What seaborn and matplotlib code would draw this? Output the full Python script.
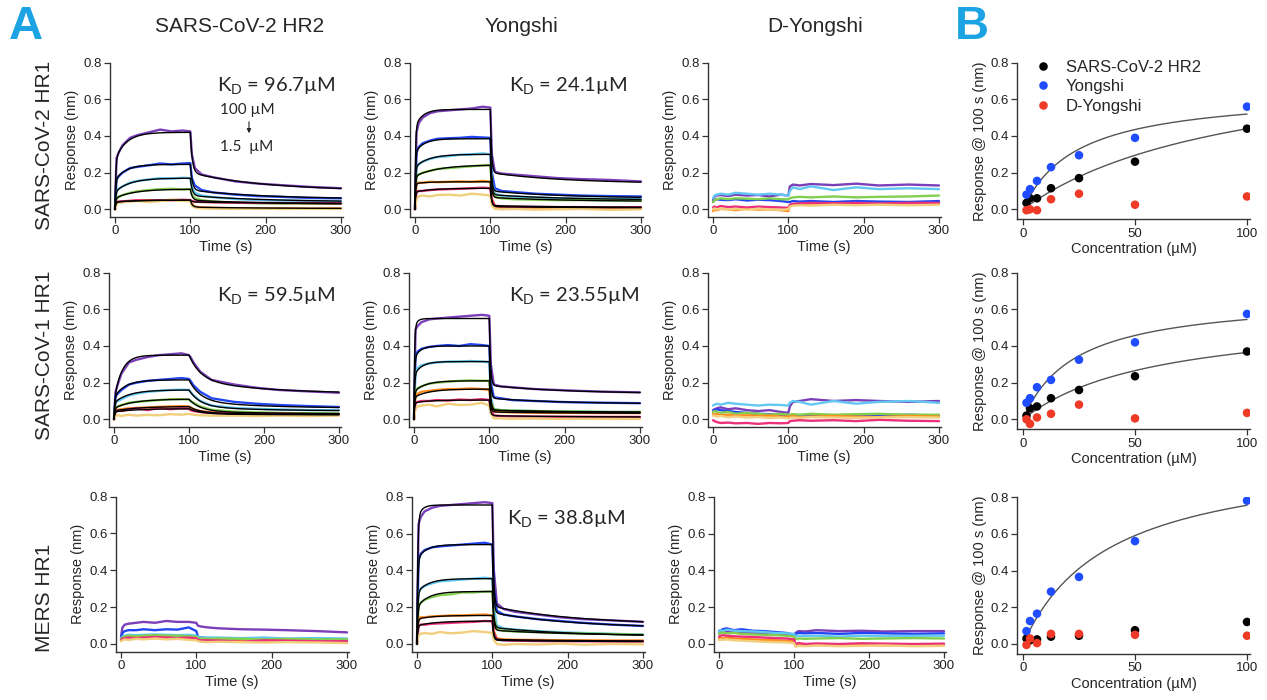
import numpy as np
import pandas as pd
import matplotlib
matplotlib.use("Agg")
import matplotlib.pyplot as plt
import seaborn as sns

W, H = 1267, 700

# ---------------- data ----------------
time_s = [0, 2, 5, 10, 20, 30, 45, 60, 75, 90, 100, 102, 106, 115, 130, 160, 190, 220, 260, 300]
conc_uM = [100, 50, 25, 12.5, 6.25, 3.125, 1.5625]
trace_colors = ['#7b3fb9', '#2446f2', '#62c8f3', '#82cf4e', '#ff8c1f', '#ea3179', '#f2cf7d']
analytes = ["SARS-CoV-2 HR2", "Yongshi", "D-Yongshi"]
ligands = ["SARS-CoV-2 HR1", "SARS-CoV-1 HR1", "MERS HR1"]

# measured sensorgrams (nm), one list per concentration (100 -> 1.56 uM)
s2hr1_hr2 = [
    [0.00, 0.28, 0.31, 0.35, 0.39, 0.405, 0.42, 0.435, 0.425, 0.43, 0.425, 0.30, 0.225, 0.19, 0.175, 0.152, 0.14, 0.132, 0.122, 0.115],
    [0.00, 0.165, 0.18, 0.20, 0.225, 0.232, 0.24, 0.25, 0.245, 0.25, 0.252, 0.17, 0.13, 0.105, 0.092, 0.08, 0.072, 0.068, 0.062, 0.06],
    [0.00, 0.10, 0.112, 0.125, 0.145, 0.155, 0.163, 0.17, 0.168, 0.172, 0.17, 0.12, 0.09, 0.075, 0.066, 0.056, 0.05, 0.048, 0.046, 0.045],
    [0.00, 0.06, 0.068, 0.078, 0.09, 0.098, 0.105, 0.11, 0.112, 0.108, 0.11, 0.08, 0.06, 0.05, 0.042, 0.036, 0.033, 0.031, 0.03, 0.03],
    [0.00, 0.035, 0.04, 0.042, 0.045, 0.048, 0.05, 0.048, 0.052, 0.05, 0.05, 0.03, 0.015, 0.01, 0.008, 0.006, 0.005, 0.006, 0.004, 0.005],
    [0.00, 0.04, 0.042, 0.044, 0.046, 0.05, 0.047, 0.05, 0.049, 0.052, 0.05, 0.045, 0.042, 0.04, 0.038, 0.036, 0.035, 0.034, 0.034, 0.033],
    [0.00, 0.03, 0.035, 0.038, 0.042, 0.045, 0.04, 0.045, 0.05, 0.046, 0.045, 0.02, 0.01, 0.005, 0.003, 0.002, 0.004, 0.002, 0.003, 0.002],
]
s2hr1_yongshi = [
    [0.00, 0.42, 0.47, 0.50, 0.525, 0.535, 0.54, 0.545, 0.55, 0.56, 0.555, 0.30, 0.205, 0.195, 0.19, 0.18, 0.17, 0.165, 0.16, 0.152],
    [0.00, 0.31, 0.34, 0.36, 0.375, 0.385, 0.388, 0.39, 0.395, 0.392, 0.39, 0.20, 0.115, 0.10, 0.095, 0.085, 0.08, 0.075, 0.072, 0.07],
    [0.00, 0.23, 0.245, 0.26, 0.275, 0.285, 0.29, 0.298, 0.30, 0.305, 0.30, 0.15, 0.085, 0.075, 0.07, 0.065, 0.06, 0.058, 0.057, 0.055],
    [0.00, 0.18, 0.19, 0.20, 0.21, 0.22, 0.225, 0.23, 0.235, 0.24, 0.242, 0.12, 0.068, 0.06, 0.055, 0.052, 0.05, 0.05, 0.048, 0.048],
    [0.00, 0.14, 0.145, 0.145, 0.15, 0.148, 0.15, 0.152, 0.15, 0.155, 0.15, 0.06, 0.015, 0.01, 0.008, 0.008, 0.006, 0.007, 0.005, 0.006],
    [0.00, 0.095, 0.10, 0.10, 0.105, 0.108, 0.11, 0.112, 0.115, 0.118, 0.115, 0.05, 0.02, 0.016, 0.014, 0.013, 0.012, 0.012, 0.011, 0.012],
    [0.00, 0.06, 0.07, 0.075, 0.07, 0.078, 0.08, 0.075, 0.085, 0.08, 0.075, 0.02, 0.003, 0.0, 0.002, -0.002, 0.0, 0.002, -0.003, 0.0],
]
s2hr1_dyongshi = [
    [0.05, 0.07, 0.075, 0.078, 0.072, 0.08, 0.075, 0.078, 0.07, 0.08, 0.075, 0.125, 0.135, 0.13, 0.138, 0.132, 0.14, 0.13, 0.135, 0.13],
    [0.04, 0.05, 0.055, 0.052, 0.05, 0.055, 0.048, 0.052, 0.05, 0.045, 0.04, 0.04, 0.045, 0.042, 0.045, 0.04, 0.045, 0.042, 0.04, 0.045],
    [0.06, 0.075, 0.08, 0.085, 0.08, 0.09, 0.085, 0.08, 0.085, 0.08, 0.075, 0.10, 0.12, 0.11, 0.125, 0.105, 0.12, 0.11, 0.115, 0.11],
    [0.04, 0.05, 0.055, 0.06, 0.055, 0.06, 0.058, 0.055, 0.06, 0.055, 0.055, 0.06, 0.065, 0.068, 0.065, 0.07, 0.065, 0.068, 0.07, 0.075],
    [-0.01, 0.0, -0.005, 0.002, 0.0, -0.005, 0.003, -0.002, 0.0, -0.005, -0.01, 0.02, 0.025, 0.03, 0.028, 0.032, 0.03, 0.028, 0.032, 0.03],
    [0.01, 0.015, 0.01, 0.018, 0.012, 0.015, 0.01, 0.015, 0.012, 0.01, 0.008, 0.025, 0.03, 0.032, 0.035, 0.033, 0.035, 0.032, 0.035, 0.035],
    [0.0, 0.005, 0.0, 0.004, 0.0, 0.002, -0.002, 0.003, 0.0, -0.003, 0.0, 0.015, 0.02, 0.022, 0.02, 0.025, 0.022, 0.025, 0.022, 0.025],
]
s1hr1_hr2 = [
    [0.00, 0.15, 0.19, 0.25, 0.31, 0.325, 0.34, 0.35, 0.355, 0.36, 0.35, 0.34, 0.31, 0.26, 0.215, 0.19, 0.172, 0.16, 0.152, 0.145],
    [0.00, 0.125, 0.14, 0.16, 0.19, 0.20, 0.21, 0.215, 0.22, 0.225, 0.22, 0.21, 0.185, 0.15, 0.115, 0.095, 0.085, 0.078, 0.072, 0.067],
    [0.00, 0.095, 0.10, 0.11, 0.13, 0.14, 0.15, 0.155, 0.16, 0.162, 0.16, 0.15, 0.13, 0.10, 0.075, 0.062, 0.057, 0.054, 0.05, 0.05],
    [0.00, 0.065, 0.07, 0.078, 0.09, 0.095, 0.10, 0.105, 0.11, 0.11, 0.108, 0.10, 0.09, 0.07, 0.052, 0.042, 0.038, 0.035, 0.033, 0.032],
    [0.00, 0.05, 0.052, 0.055, 0.06, 0.062, 0.065, 0.068, 0.07, 0.072, 0.07, 0.065, 0.055, 0.045, 0.038, 0.033, 0.03, 0.03, 0.028, 0.028],
    [0.00, 0.045, 0.05, 0.045, 0.055, 0.06, 0.05, 0.062, 0.055, 0.06, 0.058, 0.05, 0.045, 0.04, 0.035, 0.032, 0.03, 0.03, 0.028, 0.027],
    [0.00, 0.02, 0.022, 0.018, 0.025, 0.02, 0.024, 0.022, 0.028, 0.025, 0.03, 0.028, 0.025, 0.022, 0.02, 0.02, 0.018, 0.02, 0.018, 0.02],
]
s1hr1_yongshi = [
    [0.00, 0.49, 0.51, 0.53, 0.545, 0.55, 0.555, 0.56, 0.565, 0.57, 0.565, 0.30, 0.19, 0.18, 0.175, 0.165, 0.16, 0.155, 0.15, 0.147],
    [0.00, 0.35, 0.37, 0.385, 0.395, 0.40, 0.405, 0.40, 0.41, 0.405, 0.40, 0.20, 0.12, 0.115, 0.105, 0.10, 0.095, 0.092, 0.09, 0.088],
    [0.00, 0.26, 0.28, 0.295, 0.305, 0.31, 0.315, 0.315, 0.318, 0.315, 0.31, 0.12, 0.055, 0.05, 0.048, 0.045, 0.042, 0.042, 0.04, 0.04],
    [0.00, 0.16, 0.17, 0.18, 0.195, 0.20, 0.205, 0.21, 0.212, 0.21, 0.21, 0.10, 0.055, 0.05, 0.048, 0.045, 0.043, 0.042, 0.04, 0.04],
    [0.00, 0.13, 0.14, 0.15, 0.155, 0.16, 0.165, 0.165, 0.168, 0.165, 0.16, 0.08, 0.042, 0.04, 0.038, 0.036, 0.035, 0.035, 0.034, 0.034],
    [0.00, 0.09, 0.095, 0.10, 0.10, 0.105, 0.102, 0.108, 0.105, 0.11, 0.105, 0.05, 0.022, 0.018, 0.016, 0.015, 0.014, 0.014, 0.013, 0.013],
    [0.00, 0.06, 0.07, 0.075, 0.08, 0.07, 0.085, 0.078, 0.08, 0.09, 0.075, 0.03, 0.005, 0.005, 0.003, 0.004, 0.002, 0.003, 0.002, 0.002],
]
s1hr1_dyongshi = [
    [0.05, 0.055, 0.06, 0.065, 0.055, 0.06, 0.05, 0.045, 0.05, 0.04, 0.035, 0.07, 0.095, 0.10, 0.11, 0.10, 0.105, 0.10, 0.095, 0.10],
    [0.045, 0.05, 0.055, 0.05, 0.045, 0.04, 0.035, 0.03, 0.028, 0.025, 0.02, 0.02, 0.022, 0.018, 0.02, 0.022, 0.018, 0.02, 0.025, 0.02],
    [0.075, 0.08, 0.085, 0.08, 0.09, 0.085, 0.08, 0.075, 0.08, 0.078, 0.075, 0.09, 0.10, 0.095, 0.08, 0.10, 0.085, 0.095, 0.10, 0.09],
    [0.04, 0.045, 0.04, 0.035, 0.04, 0.03, 0.035, 0.03, 0.025, 0.03, 0.025, 0.025, 0.028, 0.025, 0.03, 0.025, 0.028, 0.03, 0.025, 0.025],
    [0.03, 0.025, 0.03, 0.022, 0.025, 0.02, 0.022, 0.018, 0.02, 0.015, 0.015, 0.015, 0.018, 0.012, 0.015, 0.018, 0.015, 0.012, 0.018, 0.015],
    [-0.005, -0.01, -0.015, -0.02, -0.018, -0.022, -0.02, -0.025, -0.02, -0.022, -0.02, -0.01, -0.008, -0.005, -0.008, -0.005, -0.01, -0.003, -0.008, -0.01],
    [0.02, 0.02, 0.015, 0.018, 0.012, 0.015, 0.01, 0.012, 0.008, 0.01, 0.005, 0.008, 0.01, 0.008, 0.012, 0.01, 0.008, 0.01, 0.012, 0.01],
]
mers_hr2 = [
    [0.04, 0.09, 0.105, 0.11, 0.115, 0.12, 0.115, 0.125, 0.12, 0.12, 0.115, 0.10, 0.095, 0.09, 0.085, 0.08, 0.078, 0.075, 0.07, 0.063],
    [0.03, 0.06, 0.07, 0.075, 0.075, 0.08, 0.075, 0.08, 0.078, 0.09, 0.07, 0.04, 0.035, 0.032, 0.03, 0.03, 0.032, 0.025, 0.03, 0.022],
    [0.03, 0.04, 0.045, 0.05, 0.048, 0.05, 0.052, 0.05, 0.048, 0.05, 0.045, 0.038, 0.035, 0.035, 0.035, 0.032, 0.035, 0.03, 0.032, 0.03],
    [0.025, 0.035, 0.04, 0.045, 0.042, 0.045, 0.048, 0.045, 0.045, 0.042, 0.04, 0.03, 0.03, 0.028, 0.03, 0.028, 0.025, 0.028, 0.025, 0.025],
    [0.02, 0.025, 0.03, 0.028, 0.035, 0.03, 0.032, 0.035, 0.03, 0.032, 0.03, 0.02, 0.018, 0.015, 0.018, 0.015, 0.012, 0.015, 0.012, 0.01],
    [0.02, 0.03, 0.032, 0.035, 0.03, 0.035, 0.038, 0.035, 0.032, 0.035, 0.03, 0.022, 0.02, 0.02, 0.018, 0.012, 0.02, 0.018, 0.015, 0.015],
    [0.015, 0.02, 0.025, 0.022, 0.028, 0.025, 0.03, 0.025, 0.028, 0.022, 0.02, 0.015, 0.012, 0.01, 0.012, 0.01, 0.008, 0.01, 0.008, 0.005],
]
mers_yongshi = [
    [0.00, 0.65, 0.69, 0.72, 0.74, 0.75, 0.755, 0.76, 0.765, 0.77, 0.765, 0.40, 0.22, 0.19, 0.175, 0.16, 0.145, 0.135, 0.128, 0.12],
    [0.00, 0.46, 0.49, 0.51, 0.525, 0.53, 0.535, 0.54, 0.545, 0.55, 0.54, 0.30, 0.18, 0.16, 0.15, 0.135, 0.125, 0.115, 0.105, 0.098],
    [0.00, 0.28, 0.30, 0.315, 0.33, 0.34, 0.345, 0.35, 0.355, 0.36, 0.355, 0.20, 0.10, 0.085, 0.078, 0.07, 0.064, 0.06, 0.055, 0.052],
    [0.00, 0.21, 0.225, 0.24, 0.255, 0.265, 0.27, 0.28, 0.28, 0.285, 0.285, 0.15, 0.08, 0.072, 0.068, 0.064, 0.06, 0.057, 0.054, 0.05],
    [0.00, 0.14, 0.145, 0.145, 0.15, 0.152, 0.155, 0.155, 0.158, 0.16, 0.155, 0.07, 0.03, 0.025, 0.023, 0.022, 0.02, 0.02, 0.019, 0.019],
    [0.00, 0.10, 0.105, 0.105, 0.11, 0.112, 0.115, 0.118, 0.12, 0.125, 0.123, 0.06, 0.025, 0.02, 0.018, 0.016, 0.015, 0.015, 0.014, 0.014],
    [0.00, 0.05, 0.055, 0.06, 0.055, 0.065, 0.058, 0.062, 0.07, 0.065, 0.06, 0.02, 0.0, -0.005, 0.0, -0.003, 0.002, -0.004, 0.0, -0.002],
]
mers_dyongshi = [
    [0.06, 0.065, 0.07, 0.068, 0.065, 0.06, 0.062, 0.058, 0.055, 0.05, 0.045, 0.06, 0.07, 0.068, 0.075, 0.07, 0.072, 0.068, 0.07, 0.07],
    [0.07, 0.075, 0.08, 0.085, 0.075, 0.08, 0.072, 0.07, 0.065, 0.06, 0.05, 0.055, 0.06, 0.058, 0.06, 0.055, 0.06, 0.058, 0.055, 0.058],
    [0.065, 0.075, 0.07, 0.078, 0.072, 0.07, 0.068, 0.065, 0.06, 0.058, 0.055, 0.04, 0.045, 0.042, 0.045, 0.04, 0.045, 0.042, 0.045, 0.045],
    [0.055, 0.06, 0.062, 0.058, 0.06, 0.055, 0.052, 0.05, 0.048, 0.045, 0.04, 0.025, 0.03, 0.028, 0.03, 0.032, 0.028, 0.03, 0.032, 0.03],
    [0.03, 0.035, 0.03, 0.035, 0.03, 0.028, 0.025, 0.022, 0.02, 0.018, 0.015, -0.01, -0.005, -0.008, -0.005, -0.01, -0.005, -0.008, -0.005, -0.005],
    [0.04, 0.045, 0.048, 0.045, 0.042, 0.04, 0.038, 0.035, 0.032, 0.03, 0.025, 0.0, 0.005, 0.0, 0.003, 0.0, 0.004, 0.002, 0.0, 0.002],
    [0.02, 0.025, 0.022, 0.025, 0.02, 0.018, 0.015, 0.012, 0.01, 0.008, 0.005, -0.015, -0.01, -0.012, -0.008, -0.012, -0.01, -0.008, -0.012, -0.01],
]

# kinetic fit parameters per trace: (fast amplitude, slow amplitude, slow tau, level after fast drop, plateau)
fit_s2hr1_hr2 = [(0.27, 0.15, 15, 0.20, 0.10), (0.16, 0.085, 15, 0.105, 0.055), (0.095, 0.075, 20, 0.075, 0.04),
                 (0.06, 0.05, 25, 0.05, 0.027), (0.038, 0.012, 25, 0.012, 0.004), (0.04, 0.01, 25, 0.04, 0.032)]
fit_s2hr1_yongshi = [(0.45, 0.095, 10, 0.20, 0.14), (0.31, 0.075, 12, 0.10, 0.06), (0.23, 0.07, 18, 0.08, 0.05),
                     (0.18, 0.062, 30, 0.065, 0.042), (0.14, 0.01, 15, 0.015, 0.008), (0.095, 0.02, 25, 0.02, 0.01)]
fit_s1hr1_hr2 = [(0.10, 0.25, 10, 0.22, 0.14), (0.12, 0.095, 15, 0.10, 0.06), (0.09, 0.07, 20, 0.07, 0.045),
                 (0.06, 0.05, 25, 0.045, 0.03), (0.045, 0.025, 30, 0.035, 0.025), (0.04, 0.018, 30, 0.03, 0.024)]
fit_s1hr1_yongshi = [(0.50, 0.05, 4, 0.185, 0.14), (0.33, 0.07, 8, 0.115, 0.083), (0.24, 0.075, 10, 0.05, 0.038),
                     (0.15, 0.06, 15, 0.05, 0.036), (0.12, 0.045, 20, 0.04, 0.032), (0.09, 0.015, 20, 0.02, 0.012)]
fit_mers_yongshi = [(0.68, 0.075, 6, 0.205, 0.105), (0.46, 0.08, 12, 0.17, 0.085), (0.28, 0.075, 15, 0.09, 0.04),
                    (0.20, 0.085, 15, 0.075, 0.045), (0.135, 0.02, 20, 0.025, 0.015), (0.10, 0.025, 25, 0.02, 0.012)]
# panel time constants: (fast assoc tau, fast dissoc tau, slow dissoc tau)
kin_s2hr1_hr2 = (1.0, 2.5, 100)
kin_s2hr1_yongshi = (0.8, 1.5, 100)
kin_s1hr1_hr2 = (1.0, 15, 90)
kin_s1hr1_yongshi = (0.8, 1.5, 100)
kin_mers_yongshi = (1.0, 1.5, 110)

kd_labels = {(0, 0): "96.7", (0, 1): "24.1", (1, 0): "59.5", (1, 1): "23.55", (2, 1): "38.8"}

# panel B: response at 100 s
b_conc = [1.5625, 3.125, 6.25, 12.5, 25, 50, 100]
b_s2_hr2 = [0.035, 0.06, 0.06, 0.115, 0.17, 0.26, 0.44]
b_s2_yongshi = [0.08, 0.11, 0.155, 0.23, 0.295, 0.39, 0.56]
b_s2_dyongshi = [-0.005, 0.0, -0.005, 0.055, 0.085, 0.025, 0.07]
b_s1_hr2 = [0.02, 0.06, 0.07, 0.115, 0.16, 0.235, 0.37]
b_s1_yongshi = [0.09, 0.115, 0.175, 0.215, 0.325, 0.42, 0.575]
b_s1_dyongshi = [0.0, -0.025, 0.01, 0.03, 0.08, 0.005, 0.035]
b_mers_hr2 = [0.03, 0.02, 0.025, 0.04, 0.045, 0.075, 0.12]
b_mers_yongshi = [0.07, 0.125, 0.165, 0.285, 0.365, 0.56, 0.78]
b_mers_dyongshi = [-0.005, 0.03, 0.005, 0.055, 0.055, 0.05, 0.045]
# steady-state fits: (KD uM, Rmax nm)
bfit_s2 = {"Yongshi": (24.1, 0.645), "SARS-CoV-2 HR2": (96.7, 0.865)}
bfit_s1 = {"Yongshi": (23.55, 0.673), "SARS-CoV-2 HR2": (59.5, 0.582)}
bfit_mers = {"Yongshi": (38.8, 1.048)}
b_colors = {"SARS-CoV-2 HR2": "#000000", "Yongshi": "#1f4cff", "D-Yongshi": "#ee3a26"}

# ---------------- style ----------------
sns.set_style("ticks")
plt.rcParams['font.family'] = ['Liberation Sans', 'DejaVu Sans']
plt.rcParams['mathtext.fontset'] = 'custom'
plt.rcParams['mathtext.rm'] = 'Lato'
AX_COL = '#333333'

fig = plt.figure(figsize=(W / 100, H / 100), dpi=100)


def add_axes(x0, x1, v0, v1, ytop, ybot, wtop, wbot, xlim, ylim):
    sx = (x1 - x0) / (v1 - v0)
    sy = (ybot - ytop) / (wtop - wbot)
    lpx = x0 + (xlim[0] - v0) * sx
    rpx = x0 + (xlim[1] - v0) * sx
    tpx = ybot - (ylim[1] - wbot) * sy
    bpx = ybot - (ylim[0] - wbot) * sy
    ax = fig.add_axes([lpx / W, 1 - bpx / H, (rpx - lpx) / W, (bpx - tpx) / H])
    ax.set_xlim(xlim)
    ax.set_ylim(ylim)
    return ax


def style_axes(ax):
    for s in ['top', 'right']:
        ax.spines[s].set_visible(False)
    for s in ['left', 'bottom']:
        ax.spines[s].set_color(AX_COL)
        ax.spines[s].set_linewidth(1.0)
    ax.tick_params(direction='out', length=4, width=0.9, color=AX_COL, labelsize=9.5,
                   labelcolor='#222222', pad=2)
    ax.set_yticks([0.0, 0.2, 0.4, 0.6, 0.8])
    ax.set_yticklabels(['0.0', '0.2', '0.4', '0.6', '0.8'])


def fit_curve(p, kin, t):
    af, asl, ts, l1, linf = p
    tf, d1, d2 = kin
    assoc = af * (1 - np.exp(-t / tf)) + asl * (1 - np.exp(-t / ts))
    r100 = af * (1 - np.exp(-100 / tf)) + asl * (1 - np.exp(-100 / ts))
    td = np.clip(t - 100, 0, None)
    diss = linf + (l1 - linf) * np.exp(-td / d2) + (r100 - l1) * np.exp(-td / d1)
    return np.where(t <= 100, assoc, diss)


sens = [[s2hr1_hr2, s2hr1_yongshi, s2hr1_dyongshi],
        [s1hr1_hr2, s1hr1_yongshi, s1hr1_dyongshi],
        [mers_hr2, mers_yongshi, mers_dyongshi]]
fits = {(0, 0): (fit_s2hr1_hr2, kin_s2hr1_hr2), (0, 1): (fit_s2hr1_yongshi, kin_s2hr1_yongshi),
        (1, 0): (fit_s1hr1_hr2, kin_s1hr1_hr2), (1, 1): (fit_s1hr1_yongshi, kin_s1hr1_yongshi),
        (2, 1): (fit_mers_yongshi, kin_mers_yongshi)}

# pixel anchors of (t=0, t=300, R=0.8, R=0) for each panel
anchorsA = [[(115, 341, 62.7, 209.3), (415, 641, 62.7, 209.3), (713, 939, 62.7, 209.3)],
            [(114, 339, 272.7, 419.3), (414, 640, 272.7, 419.3), (713, 939, 272.7, 419.3)],
            [(121, 347, 496.6, 644), (417, 643, 496.7, 644), (719, 944, 496.7, 644)]]
anchorsB = [(1023, 1247, 62.7, 209.3), (1023, 1247, 272.7, 419.3), (1023, 1247, 497, 644)]

t_fine = np.linspace(0, 300, 1201)
for r in range(3):
    for c in range(3):
        x0, x1, yt, yb = anchorsA[r][c]
        ax = add_axes(x0, x1, 0, 300, yt, yb, 0.8, 0.0, (-7, 302), (-0.042, 0.8))
        style_axes(ax)
        ax.set_xticks([0, 100, 200, 300])
        for k, vals in enumerate(sens[r][c]):
            df = pd.DataFrame({"t": time_s, "R": vals})
            sns.lineplot(data=df, x="t", y="R", ax=ax, color=trace_colors[k], lw=1.7,
                         estimator=None, sort=False, zorder=2)
        if (r, c) in fits:
            plist, kin = fits[(r, c)]
            for p in plist:
                sns.lineplot(x=t_fine, y=fit_curve(p, kin, t_fine), ax=ax, color='black', lw=1.0,
                             estimator=None, sort=False, zorder=3)
        ax.set_xlim(-7, 302)
        ax.set_ylim(-0.042, 0.8)
        ax.set_xlabel("Time (s)", fontsize=10.5, labelpad=2)
        ax.set_ylabel("Response (nm)", fontsize=10.5, labelpad=3)

# KD annotations
kd_pos = {(0, 0): (217, 86), (0, 1): (509, 86), (1, 0): (217, 296), (1, 1): (509, 296), (2, 1): (507, 519)}
for key, lab in kd_labels.items():
    x, y = kd_pos[key]
    fig.text(x / W, 1 - y / H, r"K$_\mathregular{D}$ = " + lab + "µM", fontsize=14.5,
             family=['Lato', 'DejaVu Sans'], ha='left', va='center')
fig.text(220 / W, 1 - 110 / H, "100 µM", fontsize=11, family=['Lato', 'DejaVu Sans'], ha='left', va='center')
fig.text(220 / W, 1 - 147 / H, "1.5  µM", fontsize=11, family=['Lato', 'DejaVu Sans'], ha='left', va='center')
fig.add_artist(matplotlib.patches.FancyArrowPatch((249 / W, 1 - 119 / H), (249 / W, 1 - 136 / H),
                                                  transform=fig.transFigure, arrowstyle='-|>',
                                                  mutation_scale=6, lw=0.8, color='#222222'))

# column and row titles
for c, (name, xc) in enumerate(zip(analytes, [240, 521, 815])):
    fig.text(xc / W, 1 - 26 / H, name, fontsize=15, ha='center', va='center')
for r, (name, yc) in enumerate(zip(ligands, [145, 355, 598])):
    fig.text(45 / W, 1 - yc / H, name, fontsize=15, ha='center', va='center', rotation=90)

fig.text(26 / W, 1 - 27 / H, "A", fontsize=34, fontweight='bold', color='#1ca3e3', ha='center', va='center')
fig.text(972 / W, 1 - 27 / H, "B", fontsize=34, fontweight='bold', color='#1ca3e3', ha='center', va='center')

# ---------------- panel B ----------------
b_rows = [(b_s2_hr2, b_s2_yongshi, b_s2_dyongshi, bfit_s2),
          (b_s1_hr2, b_s1_yongshi, b_s1_dyongshi, bfit_s1),
          (b_mers_hr2, b_mers_yongshi, b_mers_dyongshi, bfit_mers)]
c_fine = np.linspace(b_conc[0], 100, 300)
for r, (hr2, yong, dyong, bfit) in enumerate(b_rows):
    x0, x1, yt, yb = anchorsB[r]
    ax = add_axes(x0, x1, 0, 100, yt, yb, 0.8, 0.0, (-2.5, 101.5), (-0.055, 0.8))
    style_axes(ax)
    ax.set_xticks([0, 50, 100])
    for name, (kd, rmax) in bfit.items():
        sns.lineplot(x=c_fine, y=rmax * c_fine / (kd + c_fine), ax=ax, color='#555555', lw=1.0,
                     estimator=None, sort=False, zorder=2)
    df = pd.DataFrame({
        "conc": b_conc * 3,
        "resp": hr2 + yong + dyong,
        "peptide": ["SARS-CoV-2 HR2"] * 7 + ["Yongshi"] * 7 + ["D-Yongshi"] * 7,
    })
    sns.scatterplot(data=df, x="conc", y="resp", hue="peptide", palette=b_colors, s=38,
                    edgecolor='none', ax=ax, zorder=3, legend=(r == 0))
    ax.set_xlim(-2.5, 101.5)
    ax.set_ylim(-0.055, 0.8)
    ax.set_xlabel("Concentration (µM)", fontsize=10.5, labelpad=2)
    ax.set_ylabel("Response @ 100 s (nm)", fontsize=10.5, labelpad=3)
    if r == 0:
        sns.move_legend(ax, loc='upper left', bbox_to_anchor=(0.04, 1.02), frameon=False, title=None,
                        fontsize=12, handletextpad=0.35, labelspacing=0.28, borderpad=0,
                        borderaxespad=0, markerscale=1.0)

fig.savefig("out.png", dpi=100)
